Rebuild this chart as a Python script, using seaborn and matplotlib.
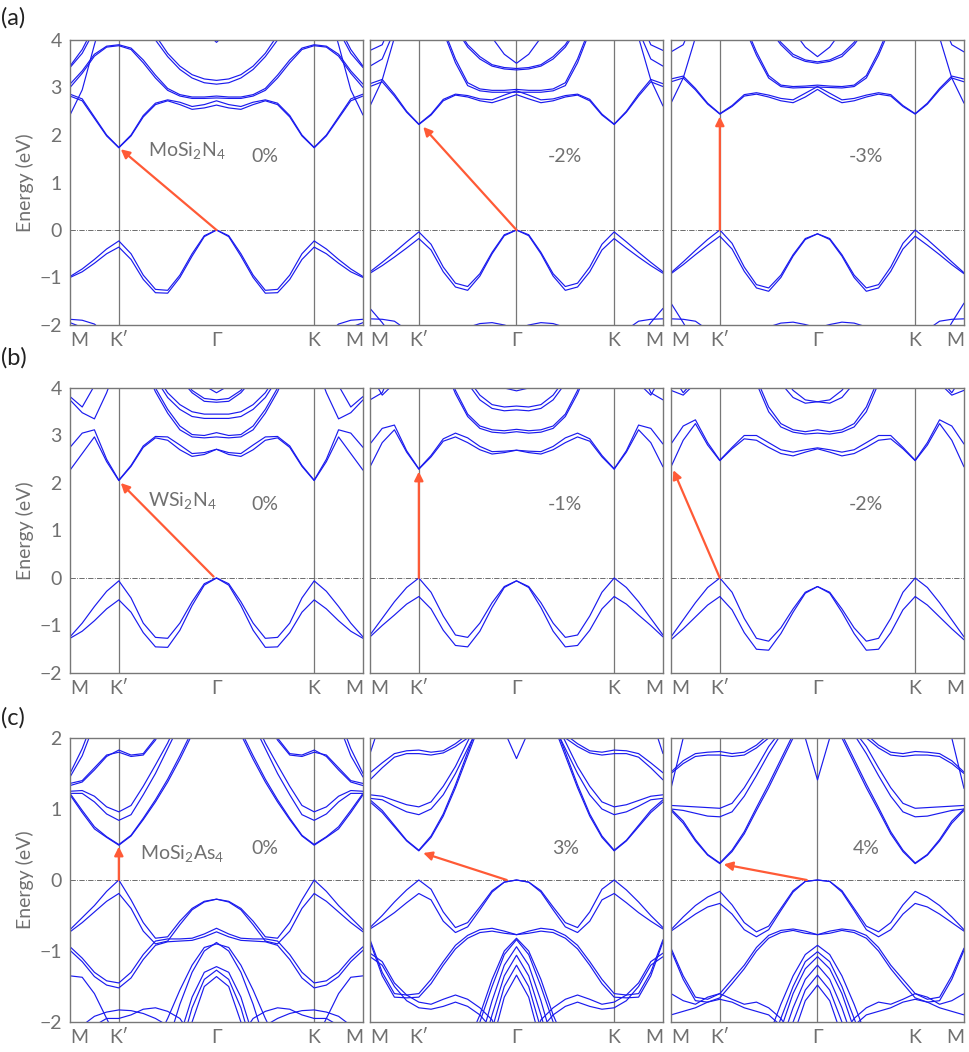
import numpy as np
import pandas as pd
import seaborn as sns
import matplotlib.pyplot as plt

# half path M -> K' -> Gamma (mirrored for Gamma -> K -> M)
K_HALF = [0.0, 0.125, 0.25, 0.375, 0.5, 0.625, 0.75, 0.875, 1.0, 1.125, 1.25, 1.375, 1.5]
K_POINTS = [0.0, 0.5, 1.5, 2.5, 3.0]
K_LABELS = ['M', 'K\u2032', '\u0393', 'K', 'M']
HI, LO = 5.0, -3.0   # off-axis placeholders

# ---- (a) MoSi2N4 ----
mosin_0 = [
    [-0.98, -0.82, -0.62, -0.40, -0.23, -0.50, -0.95, -1.25, -1.27, -0.95, -0.50, -0.12, 0.00],
    [-1.00, -0.88, -0.70, -0.50, -0.36, -0.62, -1.04, -1.32, -1.33, -1.00, -0.55, -0.14, 0.00],
    [2.82, 2.72, 2.35, 1.98, 1.73, 1.98, 2.38, 2.64, 2.72, 2.64, 2.54, 2.57, 2.63],
    [2.86, 2.76, 2.38, 2.00, 1.74, 2.00, 2.41, 2.67, 2.74, 2.69, 2.60, 2.64, 2.72],
    [3.07, 3.35, 3.70, 3.87, 3.90, 3.83, 3.58, 3.26, 2.98, 2.85, 2.80, 2.80, 2.82],
    [3.00, 3.30, 3.66, 3.85, 3.88, 3.80, 3.52, 3.20, 2.94, 2.82, 2.77, 2.77, 2.78],
    [HI, HI, HI, HI, HI, HI, 4.60, 4.10, 3.72, 3.45, 3.27, 3.18, 3.15],
    [HI, HI, HI, HI, HI, HI, 4.50, 4.00, 3.65, 3.38, 3.20, 3.10, 3.07],
    [HI, HI, HI, HI, HI, HI, HI, HI, HI, HI, 4.80, 4.20, 3.95],
    [2.42, 2.95, 3.90, 4.80, HI, HI, HI, HI, HI, HI, HI, HI, HI],
    [3.45, 3.80, 4.30, HI, HI, HI, HI, HI, HI, HI, HI, HI, HI],
    [3.42, 3.72, 4.20, HI, HI, HI, HI, HI, HI, HI, HI, HI, HI],
    [-1.88, -1.90, -1.98, -2.20, -2.60, LO, LO, LO, LO, LO, LO, LO, LO],
    [-1.95, -2.05, -2.30, LO, LO, LO, LO, LO, LO, LO, LO, LO, LO],
]
mosin_m2 = [
    [-0.88, -0.68, -0.47, -0.25, -0.04, -0.30, -0.78, -1.12, -1.19, -0.92, -0.47, -0.10, 0.00],
    [-0.91, -0.75, -0.57, -0.38, -0.18, -0.42, -0.88, -1.20, -1.27, -0.97, -0.50, -0.12, 0.00],
    [3.02, 3.12, 2.82, 2.48, 2.22, 2.42, 2.72, 2.84, 2.80, 2.72, 2.68, 2.76, 2.85],
    [3.08, 3.17, 2.86, 2.50, 2.23, 2.44, 2.75, 2.86, 2.83, 2.76, 2.74, 2.84, 2.93],
    [HI, HI, HI, HI, HI, 4.80, 4.25, 3.60, 3.10, 2.97, 2.94, 2.94, 2.96],
    [HI, HI, HI, HI, HI, 4.75, 4.18, 3.52, 3.04, 2.93, 2.90, 2.90, 2.90],
    [HI, HI, HI, HI, HI, HI, HI, 4.30, 3.90, 3.65, 3.48, 3.42, 3.40],
    [HI, HI, HI, HI, HI, HI, HI, 4.25, 3.85, 3.60, 3.45, 3.39, 3.37],
    [HI, HI, HI, HI, HI, HI, HI, HI, HI, HI, 4.05, 3.70, 3.51],
    [2.61, 3.16, 4.05, HI, HI, HI, HI, HI, HI, HI, HI, HI, HI],
    [3.45, 3.60, 4.20, HI, HI, HI, HI, HI, HI, HI, HI, HI, HI],
    [3.78, 3.90, 4.50, HI, HI, HI, HI, HI, HI, HI, HI, HI, HI],
    [-1.65, -1.95, -2.30, LO, LO, LO, LO, LO, LO, LO, LO, LO, LO],
    [-1.87, -1.88, -1.92, -2.10, -2.40, LO, LO, LO, LO, LO, LO, LO, LO],
    [LO, LO, LO, LO, LO, LO, -2.60, -2.25, -2.05, -1.97, -1.95, -2.00, -2.08],
]
mosin_m3 = [
    [-0.90, -0.67, -0.43, -0.20, 0.00, -0.28, -0.78, -1.15, -1.22, -0.95, -0.52, -0.18, -0.08],
    [-0.92, -0.73, -0.52, -0.32, -0.13, -0.40, -0.87, -1.22, -1.29, -1.00, -0.55, -0.20, -0.08],
    [3.12, 3.20, 2.95, 2.65, 2.44, 2.60, 2.82, 2.86, 2.80, 2.72, 2.68, 2.80, 2.96],
    [3.18, 3.24, 2.98, 2.67, 2.45, 2.62, 2.85, 2.89, 2.84, 2.77, 2.74, 2.88, 3.02],
    [HI, HI, HI, HI, HI, 4.80, 4.35, 3.75, 3.25, 3.05, 3.02, 3.03, 3.05],
    [HI, HI, HI, HI, HI, 4.75, 4.28, 3.68, 3.20, 3.02, 2.99, 3.00, 3.01],
    [HI, HI, HI, HI, HI, HI, HI, HI, 4.30, 3.95, 3.70, 3.58, 3.54],
    [HI, HI, HI, HI, HI, HI, HI, HI, 4.25, 3.90, 3.65, 3.55, 3.51],
    [HI, HI, HI, HI, HI, HI, HI, HI, HI, HI, 4.20, 3.85, 3.65],
    [2.67, 3.20, 4.05, HI, HI, HI, HI, HI, HI, HI, HI, HI, HI],
    [3.75, 3.90, 4.50, HI, HI, HI, HI, HI, HI, HI, HI, HI, HI],
    [-1.54, -1.95, -2.40, LO, LO, LO, LO, LO, LO, LO, LO, LO, LO],
    [-1.87, -1.88, -1.92, -2.10, -2.40, LO, LO, LO, LO, LO, LO, LO, LO],
    [LO, LO, LO, LO, LO, LO, -2.60, -2.25, -2.04, -1.96, -1.94, -1.99, -2.06],
]

# ---- (b) WSi2N4 ----
wsin_0 = [
    [-1.24, -0.95, -0.60, -0.28, -0.06, -0.42, -0.95, -1.25, -1.27, -0.95, -0.50, -0.12, 0.00],
    [-1.27, -1.12, -0.90, -0.65, -0.46, -0.72, -1.15, -1.45, -1.46, -1.10, -0.58, -0.15, 0.00],
    [2.27, 2.62, 2.97, 2.45, 2.05, 2.35, 2.75, 2.95, 2.90, 2.70, 2.56, 2.60, 2.71],
    [2.75, 3.05, 3.12, 2.50, 2.06, 2.37, 2.78, 2.98, 2.97, 2.80, 2.62, 2.64, 2.71],
    [HI, HI, HI, HI, HI, HI, 4.60, 4.00, 3.55, 3.20, 3.02, 3.00, 3.06],
    [HI, HI, HI, HI, HI, HI, 4.50, 3.92, 3.47, 3.12, 2.97, 2.95, 2.97],
    [HI, HI, HI, HI, HI, HI, HI, 4.30, 3.90, 3.65, 3.50, 3.45, 3.45],
    [HI, HI, HI, HI, HI, HI, HI, 4.20, 3.80, 3.55, 3.40, 3.36, 3.36],
    [HI, HI, HI, HI, HI, HI, HI, HI, HI, 4.30, 3.95, 3.78, 3.75],
    [HI, HI, HI, HI, HI, HI, HI, HI, HI, 4.20, 3.90, 3.72, 3.70],
    [HI, HI, HI, HI, HI, HI, HI, HI, HI, HI, 4.50, 4.05, 3.90],
    [3.75, 3.48, 3.35, 3.90, 4.60, HI, HI, HI, HI, HI, HI, HI, HI],
    [3.82, 3.60, 4.05, 4.70, HI, HI, HI, HI, HI, HI, HI, HI, HI],
]
wsin_m1 = [
    [-1.20, -0.85, -0.50, -0.20, 0.00, -0.30, -0.80, -1.20, -1.25, -0.95, -0.52, -0.18, -0.06],
    [-1.24, -1.00, -0.78, -0.55, -0.39, -0.65, -1.10, -1.42, -1.45, -1.12, -0.62, -0.20, -0.06],
    [2.34, 2.85, 3.12, 2.65, 2.29, 2.55, 2.88, 2.97, 2.85, 2.70, 2.61, 2.64, 2.69],
    [2.82, 3.15, 3.22, 2.68, 2.30, 2.58, 2.93, 3.05, 2.95, 2.77, 2.66, 2.67, 2.69],
    [HI, HI, HI, HI, HI, HI, 4.60, 3.95, 3.45, 3.20, 3.12, 3.10, 3.13],
    [HI, HI, HI, HI, HI, HI, 4.50, 3.88, 3.40, 3.15, 3.07, 3.05, 3.08],
    [HI, HI, HI, HI, HI, HI, HI, HI, 4.20, 3.85, 3.65, 3.60, 3.62],
    [HI, HI, HI, HI, HI, HI, HI, HI, 4.10, 3.75, 3.57, 3.52, 3.54],
    [HI, HI, HI, HI, HI, HI, HI, HI, HI, HI, 4.30, 4.00, 3.94],
    [3.75, 3.90, 4.50, HI, HI, HI, HI, HI, HI, HI, HI, HI, HI],
    [4.30, 3.85, 4.10, 4.80, HI, HI, HI, HI, HI, HI, HI, HI, HI],
]
wsin_m2 = [
    [-1.24, -0.88, -0.52, -0.20, 0.00, -0.30, -0.85, -1.27, -1.33, -1.05, -0.65, -0.30, -0.18],
    [-1.30, -1.07, -0.82, -0.57, -0.39, -0.67, -1.15, -1.50, -1.52, -1.17, -0.72, -0.32, -0.18],
    [2.34, 2.90, 3.25, 2.80, 2.47, 2.72, 2.93, 2.90, 2.75, 2.62, 2.57, 2.65, 2.72],
    [2.82, 3.20, 3.33, 2.85, 2.48, 2.75, 3.00, 3.00, 2.85, 2.70, 2.65, 2.70, 2.74],
    [HI, HI, HI, HI, HI, HI, HI, 4.20, 3.60, 3.25, 3.12, 3.08, 3.12],
    [HI, HI, HI, HI, HI, HI, HI, 4.10, 3.50, 3.18, 3.07, 3.03, 3.05],
    [HI, HI, HI, HI, HI, HI, HI, HI, HI, 4.30, 3.95, 3.75, 3.71],
    [HI, HI, HI, HI, HI, HI, HI, HI, HI, 4.10, 3.80, 3.68, 3.71],
    [3.95, 3.85, 4.10, 4.60, HI, HI, HI, HI, HI, HI, HI, HI, HI],
    [4.30, 3.90, 4.20, HI, HI, HI, HI, HI, HI, HI, HI, HI, HI],
]

# ---- (c) MoSi2As4 ----
mosias_0 = [
    [-0.70, -0.53, -0.36, -0.16, 0.00, -0.28, -0.60, -0.82, -0.80, -0.58, -0.40, -0.30, -0.27],
    [-0.73, -0.60, -0.45, -0.30, -0.19, -0.40, -0.72, -0.90, -0.86, -0.63, -0.42, -0.31, -0.27],
    [1.20, 0.95, 0.72, 0.60, 0.49, 0.62, 0.85, 1.10, 1.38, 1.70, 2.05, 2.40, 2.70],
    [1.22, 0.98, 0.75, 0.61, 0.50, 0.63, 0.87, 1.13, 1.42, 1.75, 2.10, 2.45, 2.75],
    [1.22, 1.22, 1.10, 0.93, 0.84, 0.92, 1.20, 1.50, 1.85, 2.20, 2.60, HI, HI],
    [1.25, 1.26, 1.18, 1.03, 0.96, 1.05, 1.32, 1.62, 1.93, 2.30, 2.70, HI, HI],
    [1.33, 1.38, 1.55, 1.74, 1.83, 1.76, 1.78, 2.00, 2.35, HI, HI, HI, HI],
    [1.36, 1.40, 1.58, 1.76, 1.80, 1.74, 1.76, 1.97, 2.30, HI, HI, HI, HI],
    [1.50, 1.85, 2.30, HI, HI, HI, HI, HI, HI, HI, HI, HI, HI],
    [1.45, 1.75, 2.20, HI, HI, HI, HI, HI, HI, HI, HI, HI, HI],
    [-0.94, -1.10, -1.30, -1.42, -1.45, -1.30, -1.05, -0.86, -0.83, -0.83, -0.82, -0.76, -0.68],
    [-0.99, -1.15, -1.36, -1.48, -1.52, -1.38, -1.12, -0.92, -0.87, -0.86, -0.85, -0.80, -0.73],
    [LO, LO, LO, LO, LO, LO, LO, LO, -2.30, -1.75, -1.30, -1.00, -0.88],
    [LO, LO, LO, LO, LO, LO, LO, -2.30, -1.95, -1.55, -1.20, -0.95, -0.90],
    [LO, LO, LO, LO, LO, LO, LO, LO, LO, -2.20, -1.65, -1.30, -1.22],
    [LO, LO, LO, LO, LO, LO, LO, LO, LO, -2.40, -1.80, -1.40, -1.27],
    [LO, LO, LO, LO, LO, LO, LO, LO, LO, LO, -2.00, -1.50, -1.36],
    [-1.35, -1.37, -1.60, -1.95, -2.30, LO, LO, LO, LO, LO, LO, LO, LO],
    [-2.20, -2.05, -1.92, -1.86, -1.83, -1.84, -1.88, -1.95, -2.05, -2.30, LO, LO, LO],
    [LO, -2.30, -2.05, -1.95, -1.95, -1.90, -1.82, -1.80, -1.85, -1.95, -2.20, LO, LO],
]
mosias_3 = [
    [-0.67, -0.50, -0.31, -0.14, 0.00, -0.13, -0.45, -0.67, -0.60, -0.38, -0.15, -0.03, 0.00],
    [-0.69, -0.58, -0.46, -0.32, -0.19, -0.28, -0.58, -0.74, -0.66, -0.42, -0.17, -0.03, 0.00],
    [1.10, 0.95, 0.75, 0.55, 0.41, 0.60, 0.90, 1.30, 1.75, 2.20, 2.60, HI, HI],
    [1.13, 0.98, 0.77, 0.56, 0.42, 0.62, 0.93, 1.34, 1.80, 2.25, 2.65, HI, HI],
    [1.20, 1.18, 1.12, 1.06, 1.03, 1.10, 1.32, 1.60, 1.95, 2.30, HI, HI, HI],
    [1.15, 1.13, 1.04, 0.96, 0.92, 1.00, 1.20, 1.50, 1.85, 2.20, HI, HI, HI],
    [1.51, 1.65, 1.78, 1.82, 1.83, 1.80, 1.82, 1.92, 2.05, 2.30, HI, HI, HI],
    [1.41, 1.58, 1.73, 1.78, 1.78, 1.76, 1.79, 1.88, 2.00, 2.25, HI, HI, HI],
    [HI, HI, HI, HI, HI, HI, HI, HI, HI, HI, HI, 2.10, 1.71],
    [1.78, 2.30, HI, HI, HI, HI, HI, HI, HI, HI, HI, HI, HI],
    [-0.84, -1.30, -1.60, -1.62, -1.60, -1.40, -1.15, -0.92, -0.78, -0.70, -0.68, -0.72, -0.77],
    [-0.87, -1.35, -1.65, -1.66, -1.65, -1.46, -1.20, -0.97, -0.82, -0.74, -0.72, -0.75, -0.77],
    [-1.03, -1.15, -1.45, -1.62, -1.72, -1.75, -1.68, -1.62, -1.68, -1.80, -1.97, -2.40, LO],
    [-1.08, -1.20, -1.50, -1.70, -1.80, -1.82, -1.78, -1.72, -1.78, -1.90, -2.10, LO, LO],
    [LO, LO, LO, LO, LO, LO, LO, LO, -2.30, -1.90, -1.40, -1.00, -0.82],
    [LO, LO, LO, LO, LO, LO, LO, LO, -2.45, -2.00, -1.50, -1.05, -0.84],
    [LO, LO, LO, LO, LO, LO, LO, LO, LO, -2.30, -1.70, -1.20, -0.94],
    [LO, LO, LO, LO, LO, LO, LO, LO, LO, -2.50, -1.90, -1.35, -1.06],
    [LO, LO, LO, LO, LO, LO, LO, LO, LO, LO, -2.10, -1.50, -1.20],
    [LO, LO, LO, LO, LO, LO, LO, LO, LO, LO, -2.30, -1.65, -1.34],
]
mosias_4 = [
    [-0.70, -0.52, -0.36, -0.24, -0.16, -0.35, -0.60, -0.73, -0.65, -0.40, -0.15, -0.02, 0.00],
    [-0.72, -0.60, -0.48, -0.38, -0.33, -0.48, -0.70, -0.80, -0.70, -0.43, -0.17, -0.02, 0.00],
    [0.98, 0.80, 0.55, 0.35, 0.23, 0.40, 0.65, 0.98, 1.30, 1.65, 2.00, 2.40, 2.80],
    [1.00, 0.83, 0.57, 0.36, 0.24, 0.42, 0.68, 1.02, 1.35, 1.70, 2.05, 2.45, 2.85],
    [1.05, 1.04, 1.03, 1.02, 1.01, 1.08, 1.30, 1.58, 1.88, 2.10, 2.40, HI, HI],
    [1.00, 0.98, 0.94, 0.90, 0.89, 0.96, 1.18, 1.47, 1.78, 2.05, 2.35, HI, HI],
    [1.52, 1.68, 1.78, 1.80, 1.81, 1.78, 1.80, 1.90, 2.05, 2.30, HI, HI, HI],
    [1.50, 1.64, 1.74, 1.76, 1.76, 1.74, 1.76, 1.86, 2.00, 2.25, HI, HI, HI],
    [HI, HI, HI, HI, HI, HI, HI, HI, HI, HI, HI, 2.00, 1.41],
    [1.29, 2.00, 2.70, HI, HI, HI, HI, HI, HI, HI, HI, HI, HI],
    [-0.96, -1.35, -1.65, -1.68, -1.60, -1.40, -1.20, -0.95, -0.78, -0.71, -0.69, -0.72, -0.77],
    [-0.99, -1.40, -1.70, -1.72, -1.66, -1.46, -1.25, -1.00, -0.82, -0.74, -0.71, -0.75, -0.77],
    [-1.60, -1.70, -1.75, -1.65, -1.60, -1.68, -1.75, -1.72, -1.80, -1.95, -2.20, LO, LO],
    [-1.90, -1.85, -1.80, -1.72, -1.68, -1.72, -1.80, -1.85, -1.90, -2.05, -2.30, LO, LO],
    [LO, LO, LO, LO, LO, LO, LO, LO, -2.20, -1.75, -1.35, -1.05, -0.92],
    [LO, LO, LO, LO, LO, LO, LO, LO, -2.40, -1.95, -1.50, -1.15, -1.01],
    [LO, LO, LO, LO, LO, LO, LO, LO, LO, -2.10, -1.60, -1.25, -1.08],
    [LO, LO, LO, LO, LO, LO, LO, LO, LO, -2.30, -1.80, -1.40, -1.20],
    [LO, LO, LO, LO, LO, LO, LO, LO, LO, LO, -2.00, -1.55, -1.34],
    [LO, LO, LO, LO, LO, LO, LO, LO, LO, LO, -2.20, -1.70, -1.48],
]

# arrows: (k_start, E_start, k_end, E_end)
arrows = [
    (1.50, 0.0, 0.52, 1.70), (1.50, 0.0, 0.545, 2.17), (0.5, 0.0, 0.5, 2.39),
    (1.47, 0.03, 0.52, 2.00), (0.5, 0.0, 0.5, 2.24), (0.5, 0.0, 0.024, 2.27),
    (0.5, 0.0, 0.5, 0.47), (1.40, 0.0, 0.545, 0.38), (1.39, 0.0, 0.54, 0.22),
]
strains = ['0%', '-2%', '-3%', '0%', '-1%', '-2%', '0%', '3%', '4%']
materials = ['MoSi$_2$N$_4$', 'WSi$_2$N$_4$', 'MoSi$_2$As$_4$']
panel_bands = [mosin_0, mosin_m2, mosin_m3, wsin_0, wsin_m1, wsin_m2,
               mosias_0, mosias_3, mosias_4]
# which high-symmetry points get a vertical guide line
guides = [[0.5, 2.5], [0.5, 1.5, 2.5], [0.5, 2.5],
          [0.5, 2.5], [0.5, 2.5], [0.5, 2.5],
          [0.5, 2.5], [2.5], [0.5, 1.5]]


def band_frame(bands):
    k_full = K_HALF + [3.0 - k for k in K_HALF[-2::-1]]
    rows = []
    for i, half in enumerate(bands):
        e_full = half + half[-2::-1]
        for k, e in zip(k_full, e_full):
            rows.append((i, k, e))
    return pd.DataFrame(rows, columns=['band', 'k', 'E'])


sns.set_style('white')
plt.rcParams['font.family'] = ['Lato', 'DejaVu Sans']
plt.rcParams['mathtext.default'] = 'regular'
GREY = '#707070'

fig = plt.figure(figsize=(9.7, 10.52), dpi=100)
lefts = [70 / 970, 370 / 970, 671 / 970]
width = 293 / 970
rows_px = [(40, 325), (388, 673), (738, 1022)]

for idx, bands in enumerate(panel_bands):
    r, c = divmod(idx, 3)
    top, bot = rows_px[r]
    ax = fig.add_axes([lefts[c], 1 - bot / 1052, width, (bot - top) / 1052])
    ylim = (-2, 4) if r < 2 else (-2, 2)

    for g in guides[idx]:
        ax.axvline(g, color='#777777', lw=0.9, zorder=1)
    ax.axhline(0, color='#555555', lw=0.6, ls='-.', zorder=1)

    sns.lineplot(data=band_frame(bands), x='k', y='E', units='band',
                 estimator=None, sort=False, color='#1a1aee', lw=0.85,
                 ax=ax, zorder=2)

    k0, e0, k1, e1 = arrows[idx]
    ax.annotate('', xy=(k1, e1), xytext=(k0, e0),
                arrowprops=dict(arrowstyle='-|>', color='#ff5a36', lw=1.6,
                                mutation_scale=13, shrinkA=0, shrinkB=0),
                zorder=4)

    ax.set_xlim(0, 3)
    ax.set_ylim(*ylim)
    ax.set_xticks(K_POINTS)
    ax.set_xticklabels(K_LABELS)
    xl = ax.get_xticklabels()
    xl[0].set_horizontalalignment('left')
    xl[-1].set_horizontalalignment('right')
    ax.set_yticks(np.arange(ylim[0], ylim[1] + 0.1, 1.0))
    ax.set_yticks(np.arange(ylim[0], ylim[1] + 0.1, 0.5), minor=True)
    ax.tick_params(axis='x', length=0, pad=5, labelsize=14, labelcolor=GREY)
    ax.tick_params(axis='y', which='both', direction='in', length=4,
                   color='#777777', labelsize=14, labelcolor=GREY, pad=6)
    ax.set_xlabel('')
    ax.set_ylabel('')
    for s in ax.spines.values():
        s.set_color('#777777')
        s.set_linewidth(1.0)

    if c == 0:
        ax.set_ylabel('Energy (eV)', fontsize=14, color=GREY, labelpad=4)
        mk, me = [(0.80, 1.68), (0.80, 1.64), (0.72, 0.38)][r]
        ax.text(mk, me, materials[r], fontsize=14, color=GREY, va='center')
    else:
        ax.tick_params(axis='y', labelleft=False)

    se = 1.54 if r < 2 else 0.44
    ax.text(2.0, se, strains[idx], fontsize=14, color=GREY,
            ha='center', va='center')

for lab, y in zip(['(a)', '(b)', '(c)'], [18, 358, 718]):
    fig.text(0.001, 1 - y / 1052, lab, fontsize=17, color='#222222', va='center')

fig.savefig('out.png', dpi=100)
